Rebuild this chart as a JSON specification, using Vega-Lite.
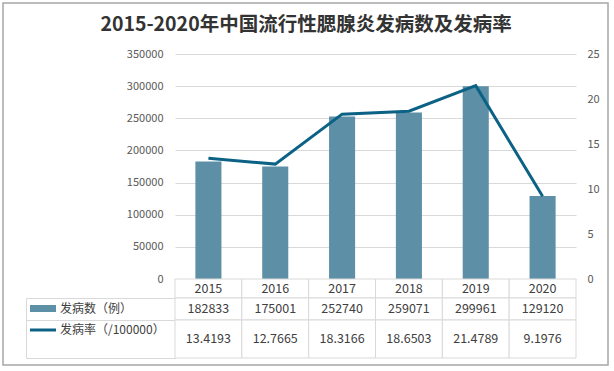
{
  "$schema": "https://vega.github.io/schema/vega-lite/v6.json",
  "background": "white",
  "padding": 3,
  "datasets": {
    "main": [
      {"year": "2015", "cases": 182833, "rate": 13.4193},
      {"year": "2016", "cases": 175001, "rate": 12.7665},
      {"year": "2017", "cases": 252740, "rate": 18.3166},
      {"year": "2018", "cases": 259071, "rate": 18.6503},
      {"year": "2019", "cases": 299961, "rate": 21.4789},
      {"year": "2020", "cases": 129120, "rate": 9.1976}
    ]
  },
  "title": {
    "text": "2015-2020年中国流行性腮腺炎发病数及发病率",
    "fontSize": 19.5,
    "fontWeight": "bold",
    "color": "#333333",
    "anchor": "middle",
    "baseline": "alphabetic",
    "offset": -47
  },
  "columns": 2,
  "spacing": 0,
  "bounds": "flush",
  "align": "each",
  "resolve": {
    "scale": {"color": "independent", "stroke": "independent"},
    "legend": {"color": "independent", "stroke": "independent"}
  },
  "concat": [
    {
      "width": 149,
      "height": 225,
      "data": {"values": [{}]},
      "mark": {"type": "point", "opacity": 0},
      "encoding": {
        "color": {
          "datum": 0.5,
          "type": "quantitative",
          "scale": {"domain": [0, 1], "range": ["rgba(255,255,255,0)", "rgba(255,255,255,0)"]},
          "legend": {
            "orient": "none",
            "direction": "horizontal",
            "legendX": -23,
            "legendY": -51,
            "title": null,
            "padding": 0,
            "gradientLength": 605,
            "gradientThickness": 362,
            "gradientStrokeColor": "#a6a6a6",
            "gradientStrokeWidth": 1.5,
            "labelOpacity": 0,
            "labelFontSize": 1,
            "labelOffset": 0,
            "tickCount": 2
          }
        }
      }
    },
    {
      "width": 401,
      "height": 225,
      "data": {"name": "main"},
      "encoding": {
        "x": {"field": "year", "type": "ordinal", "axis": null, "scale": {"paddingInner": 0, "paddingOuter": 0}}
      },
      "layer": [
        {
          "mark": {"type": "bar", "color": "#5d90a7", "width": {"band": 0.39}},
          "encoding": {
            "y": {
              "field": "cases", "type": "quantitative",
              "scale": {"domain": [0, 350000], "nice": false},
              "axis": {
                "orient": "left", "title": null, "format": "d",
                "values": [0, 50000, 100000, 150000, 200000, 250000, 300000, 350000],
                "labelFontSize": 11, "labelColor": "#595959", "labelPadding": 12,
                "domain": false, "ticks": false,
                "grid": true, "gridColor": "#d9d9d9", "gridWidth": 1
              }
            }
          }
        },
        {
          "mark": {"type": "line", "color": "#0b6285", "strokeWidth": 3},
          "encoding": {
            "y": {
              "field": "rate", "type": "quantitative",
              "scale": {"domain": [0, 25], "nice": false},
              "axis": {
                "orient": "right", "title": null, "format": "d",
                "values": [0, 5, 10, 15, 20, 25],
                "labelFontSize": 11, "labelColor": "#595959", "labelPadding": 11,
                "domain": false, "ticks": false, "grid": false
              }
            }
          }
        }
      ],
      "resolve": {"scale": {"y": "independent"}}
    },
    {
      "width": 149,
      "height": 19,
      "data": {"values": [{}]},
      "mark": {"type": "point", "opacity": 0}
    },
    {
      "width": 401,
      "height": 19,
      "data": {"name": "main"},
      "encoding": {
        "x": {"field": "year", "type": "ordinal", "axis": null, "scale": {"paddingInner": 0, "paddingOuter": 0}}
      },
      "layer": [
        {"mark": {"type": "rect", "fill": "white", "stroke": "#d9d9d9", "strokeWidth": 1}},
        {"mark": {"type": "text", "fontSize": 12.5, "color": "#404040"}, "encoding": {"text": {"field": "year", "type": "nominal"}}}
      ]
    },
    {
      "width": 149,
      "height": 22,
      "view": {"stroke": "#d9d9d9"},
      "data": {"values": [{}]},
      "mark": {"type": "point", "filled": true, "opacity": 0},
      "encoding": {
        "color": {
          "datum": "发病数（例）",
          "type": "nominal",
          "scale": {"range": ["#5d90a7"]},
          "legend": {
            "orient": "none",
            "legendX": 4,
            "legendY": -2.5,
            "title": null,
            "padding": 0,
            "labelFontSize": 12,
            "labelColor": "#404040",
            "labelOffset": 4,
            "symbolType": "M-1,-0.27H1V0.27H-1Z",
            "symbolSize": 676,
            "symbolStrokeWidth": 0,
            "symbolFillColor": "#5d90a7"
          }
        }
      }
    },
    {
      "width": 401,
      "height": 22,
      "data": {"name": "main"},
      "encoding": {
        "x": {"field": "year", "type": "ordinal", "axis": null, "scale": {"paddingInner": 0, "paddingOuter": 0}}
      },
      "layer": [
        {"mark": {"type": "rect", "fill": "white", "stroke": "#d9d9d9", "strokeWidth": 1}},
        {"mark": {"type": "text", "fontSize": 12.5, "color": "#404040"}, "encoding": {"text": {"field": "cases", "type": "nominal"}}}
      ]
    },
    {
      "width": 149,
      "height": 38,
      "view": {"stroke": "#d9d9d9"},
      "data": {"values": [{}]},
      "mark": {"type": "point", "opacity": 0},
      "encoding": {
        "stroke": {
          "datum": "发病率（/100000）",
          "type": "nominal",
          "scale": {"range": ["#0b6285"]},
          "legend": {
            "orient": "none",
            "legendX": 2.5,
            "legendY": -4.5,
            "title": null,
            "padding": 0,
            "labelFontSize": 12,
            "labelColor": "#404040",
            "labelOffset": 2.5,
            "symbolType": "M-1,0H1",
            "symbolSize": 676,
            "symbolStrokeWidth": 3,
            "symbolFillColor": "transparent",
            "symbolStrokeColor": "#0b6285"
          }
        }
      }
    },
    {
      "width": 401,
      "height": 38,
      "data": {"name": "main"},
      "encoding": {
        "x": {"field": "year", "type": "ordinal", "axis": null, "scale": {"paddingInner": 0, "paddingOuter": 0}}
      },
      "layer": [
        {"mark": {"type": "rect", "fill": "white", "stroke": "#d9d9d9", "strokeWidth": 1}},
        {"mark": {"type": "text", "fontSize": 12.5, "color": "#404040"}, "encoding": {"text": {"field": "rate", "type": "nominal"}}}
      ]
    }
  ],
  "config": {
    "font": "Noto Sans CJK SC",
    "view": {"stroke": null}
  }
}
